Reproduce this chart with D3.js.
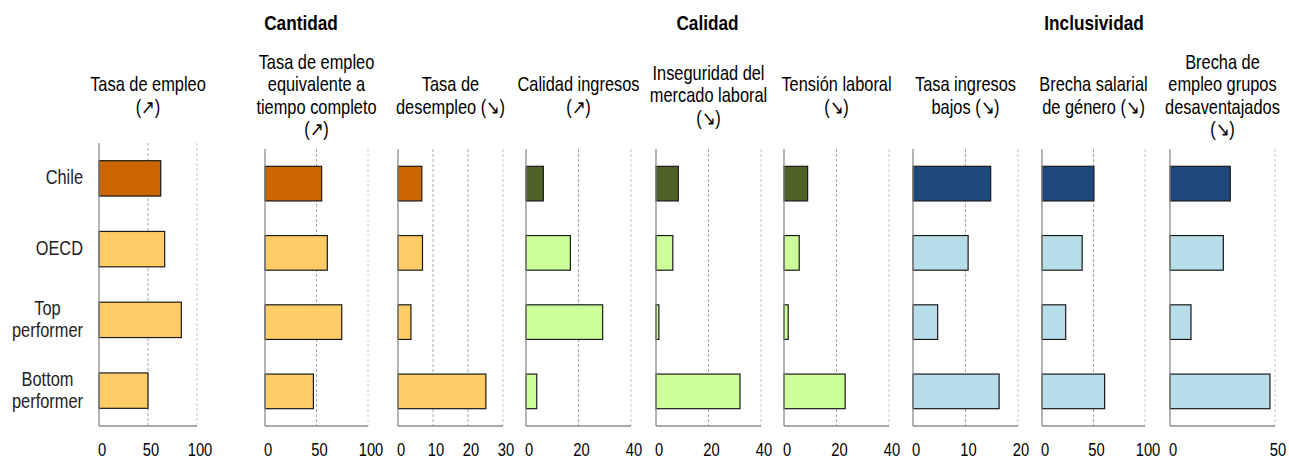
<!DOCTYPE html>
<html>
<head>
<meta charset="utf-8">
<script src="https://cdn.jsdelivr.net/npm/d3@7"></script>
<style>
  html, body { margin: 0; padding: 0; background: #fff; }
  svg { display: block; }
</style>
</head>
<body>
<svg id="chart" width="1289" height="459"></svg>
<script>
// ---------------- DATA ----------------
const categories = ["Chile", "OECD", "Top performer", "Bottom performer"];
const groups = ["Cantidad", "Calidad", "Inclusividad"];
const indicatorTitles = [
  ["Tasa de empleo", "(↗)"],
  ["Tasa de empleo", "equivalente a", "tiempo completo", "(↗)"],
  ["Tasa de", "desempleo (↘)"],
  ["Calidad ingresos", "(↗)"],
  ["Inseguridad del", "mercado laboral", "(↘)"],
  ["Tensión laboral", "(↘)"],
  ["Tasa ingresos", "bajos (↘)"],
  ["Brecha salarial", "de género (↘)"],
  ["Brecha de", "empleo grupos", "desaventajados", "(↘)"]
];
const indicatorGroup = [0, 0, 0, 1, 1, 1, 2, 2, 2];

const tasaEmpleo        = [63, 67, 84, 50];
const tasaEmpleoETC     = [55, 60.5, 74.5, 47];
const tasaDesempleo     = [6.8, 7.0, 3.7, 25.1];
const calidadIngresos   = [6.6, 16.9, 29.2, 4.1];
const inseguridad       = [8.5, 6.4, 1.1, 32];
const tensionLaboral    = [9.0, 5.8, 1.6, 23.3];
const tasaIngresosBajos = [14.8, 10.5, 4.7, 16.4];
const brechaSalarial    = [50.4, 39, 23, 60.8];
const brechaEmpleo      = [28.7, 25.4, 10, 47.6];
const seriesValues = [tasaEmpleo, tasaEmpleoETC, tasaDesempleo, calidadIngresos,
  inseguridad, tensionLaboral, tasaIngresosBajos, brechaSalarial, brechaEmpleo];

const axisMax = [100, 100, 30, 40, 40, 40, 20, 100, 50];
const tickValues = [[0,50,100],[0,50,100],[0,10,20,30],[0,20,40],[0,20,40],[0,20,40],[0,10,20],[0,50,100],[0,50]];

// ---------------- STYLE / LAYOUT ----------------
const groupColors = [
  { main: "#CC6600", other: "#FFCC66" },
  { main: "#4F6228", other: "#CCFF99" },
  { main: "#1F497D", other: "#B7DEE8" }
];
const panelX = [[99,197],[265,368],[398,503],[526,631],[656,761],[784,889],[913,1018],[1042,1145],[1170,1275]];
const plotBottom = 426;

const svg = d3.select("#chart");

// font detection: use narrow font if present, else horizontally scale regular
const FONT_NARROW = "'Liberation Sans Narrow', 'Arial Narrow'";
const FONT_REG = "'Liberation Sans', Arial, sans-serif";
let fontFamily = FONT_NARROW + ", " + FONT_REG;
let sx = 1;
(function detect() {
  const t1 = svg.append("text").attr("font-family", FONT_NARROW + ", monospace").attr("font-size", 20).text("Tasa de empleo");
  const t2 = svg.append("text").attr("font-family", FONT_REG).attr("font-size", 20).text("Tasa de empleo");
  const w1 = t1.node().getComputedTextLength(), w2 = t2.node().getComputedTextLength();
  t1.remove(); t2.remove();
  if (!(w1 / w2 < 0.9)) { fontFamily = FONT_REG; sx = 0.82; }
})();

function addText(sel, x, y, str, o) {
  o = o || {};
  return sel.append("text")
    .attr("transform", `translate(${x},${y}) scale(${sx},1)`)
    .attr("text-anchor", o.anchor || "middle")
    .attr("font-family", fontFamily)
    .attr("font-size", o.size || 20)
    .attr("font-weight", o.weight || "normal")
    .attr("fill", o.fill || "#000")
    .text(str);
}

// group titles
groups.forEach((g, gi) => {
  const idx = indicatorGroup.map((v, i) => v === gi ? i : -1).filter(i => i >= 0);
  const x0 = panelX[idx[0]][0], x1 = panelX[idx[idx.length - 1]][1];
  addText(svg, (x0 + x1) / 2, 30, g, { weight: "bold", size: 21 });
});

// panels
seriesValues.forEach((vals, pi) => {
  const gi = indicatorGroup[pi];
  const [xa, xb] = panelX[pi];
  const top = pi === 0 ? 143 : 149;
  const x = d3.scaleLinear().domain([0, axisMax[pi]]).range([xa, xb]);
  const y = d3.scaleBand().domain(categories).range([top, plotBottom]).paddingInner(0.5).paddingOuter(0.25);
  const g = svg.append("g");

  // header
  const lines = indicatorTitles[pi];
  const n = lines.length;
  lines.forEach((l, li) => {
    addText(g, (xa + xb) / 2, 102.3 + (li - (n - 1) / 2) * 22.5, l, { size: 20 });
  });

  // gridlines
  tickValues[pi].forEach(t => {
    if (t === 0) return;
    const isEdge = t === axisMax[pi];
    g.append("line")
      .attr("x1", x(t)).attr("x2", x(t))
      .attr("y1", top).attr("y2", plotBottom)
      .attr("stroke", isEdge ? "#c8c8c8" : "#a6a6a6")
      .attr("stroke-width", 1)
      .attr("stroke-dasharray", "3,2");
  });

  // bars
  g.selectAll("rect.bar").data(vals).enter().append("rect")
    .attr("class", "bar")
    .attr("x", x(0))
    .attr("y", (d, i) => y(categories[i]))
    .attr("width", d => x(d) - x(0))
    .attr("height", y.bandwidth())
    .attr("fill", (d, i) => i === 0 ? groupColors[gi].main : groupColors[gi].other)
    .attr("stroke", "#1a1a1a")
    .attr("stroke-width", 1.2);

  // zero axis & bottom line
  g.append("line").attr("x1", x(0)).attr("x2", x(0)).attr("y1", top).attr("y2", plotBottom)
    .attr("stroke", "#8c8c8c").attr("stroke-width", 1.3);
  g.append("line").attr("x1", x(0)).attr("x2", x(axisMax[pi])).attr("y1", plotBottom).attr("y2", plotBottom)
    .attr("stroke", "#8c8c8c").attr("stroke-width", 1.3);

  // tick labels
  tickValues[pi].forEach(t => {
    addText(g, x(t) + 3, 456, d3.format("d")(t), { size: 18 });
  });

  // category labels (first panel)
  if (pi === 0) {
    categories.forEach(c => {
      const parts = c.split(" ");
      const cy = y(c) + y.bandwidth() / 2;
      const tmp = parts.map(p => addText(svg, 0, 0, p, { size: 20 }));
      const maxW = d3.max(tmp, t => t.node().getComputedTextLength()) * sx;
      tmp.forEach(t => t.remove());
      const cx = 83 - maxW / 2;
      const m = parts.length;
      parts.forEach((p, li) => {
        addText(svg, cx, cy + 6 + (li - (m - 1) / 2) * 22, p, { size: 20, fill: "#222" });
      });
    });
  }
});
</script>
</body>
</html>
